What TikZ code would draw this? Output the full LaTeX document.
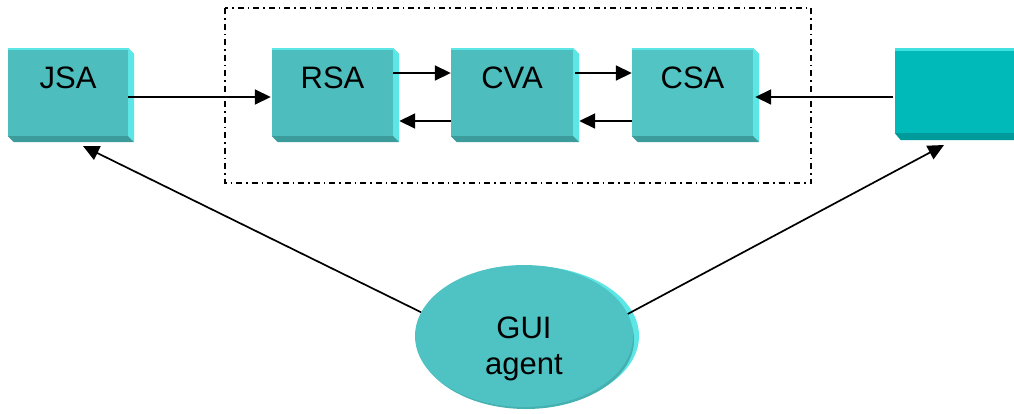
\documentclass[tikz,border=0pt]{standalone}
\usepackage{fontspec}
\setmainfont{Liberation Sans}
\usetikzlibrary{arrows.meta,calc,shapes.geometric}
\definecolor{face}{HTML}{4DBDBD}
\definecolor{faceB}{HTML}{52C4C4}
\definecolor{sidec}{HTML}{5CE6E6}
\definecolor{bottomc}{HTML}{3C9C9C}
\definecolor{tface}{HTML}{00BABA}
\definecolor{tbottom}{HTML}{009A9A}
\definecolor{ttop}{HTML}{40E0E0}
\definecolor{ellface}{HTML}{4FC3C3}
\definecolor{elldark}{HTML}{45B0B0}
\newcommand\mybevel[1]{%
  \fill[sidec] (#1.north east) -- ++(6,6) -- ($(#1.south east)+(6,6)$) -- (#1.south east) -- cycle;
  \fill[bottomc] (#1.south west) -- (#1.south east) -- ++(6,6) -- ($(#1.south west)+(6,6)$) -- cycle;
  \fill[sidec] (#1.north west) rectangle ($(#1.north east)+(0,2)$);
}
\begin{document}
\begin{tikzpicture}[x=1pt,y=-1pt,
  agentbox/.style={rectangle, fill=face, inner sep=0pt, minimum width=120pt,
    minimum height=88pt, text height=40pt, text depth=48pt,
    font=\fontsize{31}{36}\selectfont},
  link/.style={line width=1.7pt, -{Triangle[length=16pt,width=15pt]}},
  framebox/.style={line width=1.4pt, dash pattern=on 6pt off 4pt on 1.5pt off 4pt},
  guinode/.style={ellipse, fill=ellface, inner sep=0pt, minimum width=218pt, minimum height=142pt},
  guitext/.style={align=center, font=\fontsize{31}{36}\selectfont}
]
\useasboundingbox (0,0) rectangle (1014,413);

% dash-dot frame
\draw[framebox] (225,8) rectangle (811,183);

% boxes
\node[agentbox] (jsa) at (68,92) {JSA};
\node[agentbox, minimum width=121pt] (rsa) at (332.5,92) {RSA};
\node[agentbox, minimum width=122pt] (cva) at (512,92) {CVA};
\node[agentbox, minimum width=121pt, fill=faceB] (csa) at (692.5,92) {CSA};
\node[rectangle, fill=tface, inner sep=0pt, minimum width=130pt, minimum height=85pt] (ext) at (960,90.5) {};
\mybevel{jsa}
\mybevel{rsa}
\mybevel{cva}
\mybevel{csa}
\fill[tbottom] (ext.south west) -- (ext.south east) -- ++(6,7) -- ($(ext.south west)+(6,7)$) -- cycle;
\fill[ttop] (ext.north west) rectangle ($(ext.north east)+(0,3)$);

% GUI agent ellipse
\fill[sidec] (530,336) ellipse [x radius=109, y radius=70];
\fill[elldark] (526,340) ellipse [x radius=108, y radius=69];
\node[guinode] (gui) at (524,336) {};
\node[guitext] (guit) at (524,349) {GUI\\agent};

% connectors
\draw[link] ([yshift=-5pt]jsa.east) -- ([xshift=-1pt,yshift=-5pt]rsa.west);
\draw[link] ([yshift=19pt]rsa.east) -- ([yshift=19pt]cva.west);
\draw[link] ([yshift=-29pt]cva.west) -- ([xshift=6pt,yshift=-29pt]rsa.east);
\draw[link] ([xshift=2pt,yshift=19pt]cva.east) -- ([yshift=19pt]csa.west);
\draw[link] ([yshift=-29pt]csa.west) -- ([xshift=6pt,yshift=-29pt]cva.east);
\draw[link] ([xshift=-2pt,yshift=-6.5pt]ext.west) -- ([xshift=2pt,yshift=-5pt]csa.east);

\coordinate (jsain) at (83,146);
\coordinate (extin) at (944,145);
\draw[link] (gui.167) -- (jsain);
\draw[link] (gui.12) -- (extin);
\end{tikzpicture}
\end{document}
